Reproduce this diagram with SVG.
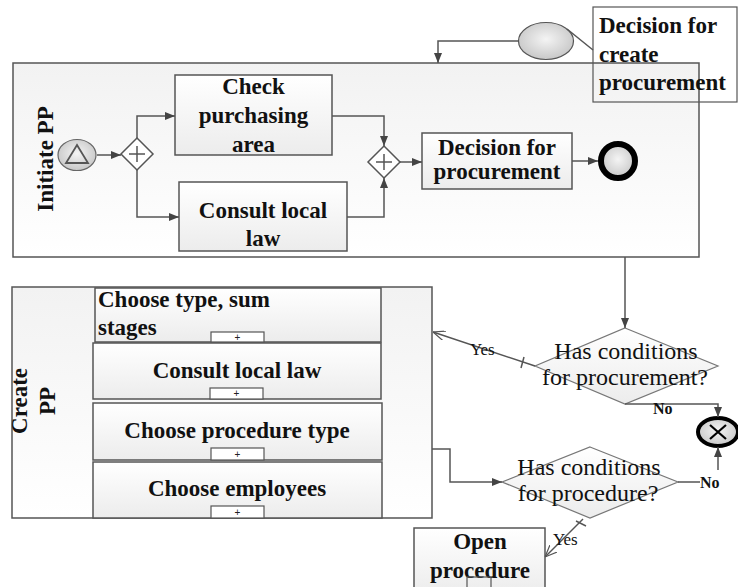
<svg xmlns="http://www.w3.org/2000/svg" width="738" height="587" viewBox="0 0 738 587">
<defs>
<linearGradient id="pool" x1="0" y1="0" x2="0" y2="1"><stop offset="0" stop-color="#f2f2f2"/><stop offset="1" stop-color="#ffffff"/></linearGradient>
<linearGradient id="box" x1="0" y1="0" x2="0" y2="1"><stop offset="0" stop-color="#ffffff"/><stop offset="1" stop-color="#ececec"/></linearGradient>
<radialGradient id="ev" cx="0.5" cy="0.45" r="0.6"><stop offset="0" stop-color="#f4f4f4"/><stop offset="1" stop-color="#c4c4c4"/></radialGradient>
<marker id="arr" viewBox="0 0 10 8" refX="10" refY="4" markerWidth="10" markerHeight="8" markerUnits="userSpaceOnUse" orient="auto"><path d="M0,0 L10,4 L0,8 z" fill="#444"/></marker>
<marker id="open" viewBox="0 0 12 10" refX="12" refY="5" markerWidth="12" markerHeight="10" markerUnits="userSpaceOnUse" orient="auto"><path d="M0,0 L12,5 L0,10" fill="none" stroke="#555" stroke-width="1.2"/></marker>
</defs>
<style>
.pool{fill:url(#pool);stroke:#555;stroke-width:1.5}
.box{fill:url(#box);stroke:#555;stroke-width:1.5}
.dia{fill:url(#box);stroke:#777;stroke-width:1.2}
.gw{fill:#fff;stroke:#555;stroke-width:1.5}
.ln{fill:none;stroke:#555;stroke-width:1.5}
.t{font-family:"Liberation Serif","Times New Roman",serif;font-weight:bold;font-size:23px;fill:#111}
.r{font-family:"Liberation Serif","Times New Roman",serif;font-size:24px;fill:#111}
.s{font-family:"Liberation Serif","Times New Roman",serif;font-size:17px;fill:#111}
.sb{font-family:"Liberation Serif","Times New Roman",serif;font-weight:bold;font-size:16px;fill:#111}
.m{fill:#fff;stroke:#555;stroke-width:1.2}
.mp{font-family:"Liberation Sans",Arial,sans-serif;font-size:10px;fill:#222}
</style>
<rect width="738" height="587" fill="#fff"/>

<g id="pool-initiate">
<rect class="pool" x="13" y="63" width="686" height="194"/>
<text class="t" transform="translate(53,159) rotate(-90)" text-anchor="middle" font-size="23.5">Initiate PP</text>
</g>

<g id="annotation">
<rect x="593" y="7" width="144" height="95" fill="none" stroke="#555" stroke-width="1.2"/>
<text class="t" x="599" y="33" font-size="23.5">Decision for</text>
<text class="t" x="599" y="62" font-size="23.5">create</text>
<text class="t" x="599" y="90" font-size="23.5">procurement</text>
</g>

<g id="message">
<ellipse cx="546" cy="41" rx="27.5" ry="18.5" fill="url(#ev)" stroke="#555" stroke-width="1.2"/>
</g>

<g id="start">
<ellipse cx="77" cy="155" rx="19" ry="15.5" fill="url(#ev)" stroke="#666" stroke-width="1.2"/>
<path d="M77,145 L88,163 L66,163 z" fill="none" stroke="#555" stroke-width="1.8"/>
</g>

<g id="gw-split">
<path class="gw" d="M137,138 L153,154 L137,170 L121,154 z"/>
<path d="M137,146 V162 M129,154 H145" stroke="#555" stroke-width="1.5"/>
</g>

<g id="task-check">
<rect class="box" x="175" y="75" width="157" height="80"/>
<text class="t" x="253.5" y="94" text-anchor="middle">Check</text>
<text class="t" x="253.5" y="123" text-anchor="middle">purchasing</text>
<text class="t" x="253.5" y="152" text-anchor="middle">area</text>
</g>

<g id="task-consult">
<rect class="box" x="179" y="182" width="168" height="69"/>
<text class="t" x="263" y="218" text-anchor="middle">Consult local</text>
<text class="t" x="263" y="246" text-anchor="middle">law</text>
</g>

<g id="gw-join">
<path class="gw" d="M384,146 L400,162 L384,178 L368,162 z"/>
<path d="M384,154 V170 M376,162 H392" stroke="#555" stroke-width="1.5"/>
</g>

<g id="task-decision">
<rect class="box" x="422" y="133" width="150" height="56"/>
<text class="t" x="497" y="155" text-anchor="middle">Decision for</text>
<text class="t" x="497" y="179" text-anchor="middle">procurement</text>
</g>

<g id="end">
<circle cx="618" cy="161" r="17" fill="url(#ev)" stroke="#000" stroke-width="6"/>
</g>

<g id="pool-create">
<rect class="pool" x="12" y="287" width="420" height="231"/>
<text class="t" transform="translate(27,401) rotate(-90)" text-anchor="middle" font-size="23.5">Create</text>
<text class="t" transform="translate(55,401) rotate(-90)" text-anchor="middle" font-size="23.5">PP</text>
</g>

<g id="sub-type">
<rect class="box" x="95" y="288" width="286" height="54"/>
<text class="t" x="98" y="307" font-size="24">Choose type, sum</text>
<text class="t" x="98" y="335" font-size="24">stages</text>
<rect class="m" x="211" y="332" width="53" height="10"/>
<text class="mp" x="237.5" y="341" text-anchor="middle">+</text>
</g>

<g id="sub-law">
<rect class="box" x="93" y="343" width="288" height="56"/>
<text class="t" x="237" y="378" text-anchor="middle" font-size="24">Consult local law</text>
<rect class="m" x="210" y="388" width="53" height="11"/>
<text class="mp" x="236.5" y="397" text-anchor="middle">+</text>
</g>

<g id="sub-proc">
<rect class="box" x="93" y="403" width="289" height="57"/>
<text class="t" x="237" y="438" text-anchor="middle" font-size="24">Choose procedure type</text>
<rect class="m" x="211" y="448" width="53" height="12"/>
<text class="mp" x="237.5" y="458" text-anchor="middle">+</text>
</g>

<g id="sub-emp">
<rect class="box" x="93" y="462" width="289" height="56"/>
<text class="t" x="237" y="496" text-anchor="middle" font-size="24">Choose employees</text>
<rect class="m" x="211" y="506" width="53" height="12"/>
<text class="mp" x="237.5" y="516" text-anchor="middle">+</text>
</g>

<g id="dec-procurement">
<path class="dia" d="M625,328 L718,366 L625,404 L535,366 z"/>
<text class="r" x="626" y="359" text-anchor="middle">Has conditions</text>
<text class="r" x="625" y="385" text-anchor="middle">for procurement?</text>
</g>

<g id="dec-procedure">
<path class="dia" d="M590,447 L678,482 L590,518 L502,482 z"/>
<text class="r" x="589" y="475" text-anchor="middle" font-size="23.5">Has conditions</text>
<text class="r" x="588" y="501" text-anchor="middle" font-size="23.5">for procedure?</text>
</g>

<g id="end-x">
<ellipse cx="718" cy="432" rx="20" ry="14" fill="url(#ev)" stroke="#000" stroke-width="4"/>
<path d="M710,425 L726,439 M726,425 L710,439" stroke="#000" stroke-width="2.2"/>
</g>

<g id="task-open">
<rect class="box" x="414" y="528" width="131" height="66"/>
<text class="t" x="480" y="549" text-anchor="middle" font-size="24">Open</text>
<text class="t" x="480" y="578" text-anchor="middle" font-size="24">procedure</text>
<rect x="467" y="577" width="24" height="14" fill="none" stroke="#555" stroke-width="1.2"/>
</g>

<g id="connectors">
<path class="ln" d="M97,155 H121" marker-end="url(#arr)"/>
<path class="ln" d="M137,138 V116 H175" marker-end="url(#arr)"/>
<path class="ln" d="M137,170 V217 H179" marker-end="url(#arr)"/>
<path class="ln" d="M332,116 H384 V146" marker-end="url(#arr)"/>
<path class="ln" d="M347,217 H384 V178" marker-end="url(#arr)"/>
<path class="ln" d="M400,162 H422" marker-end="url(#arr)"/>
<path class="ln" d="M572,161 H598" marker-end="url(#arr)"/>
<path class="ln" d="M519,41 H438 V63" marker-end="url(#arr)"/>
<path class="ln" d="M567,29 L593,50" stroke-width="1.2"/>
<path class="ln" d="M625,257 V328" marker-end="url(#arr)"/>
<path class="ln" d="M535,366 L433,332" stroke-width="1.3" marker-end="url(#open)"/>
<path class="ln" d="M524,357 L521,368" stroke-width="1.2"/>
<text class="s" x="470" y="355">Yes</text>
<path class="ln" d="M625,404 H718 V417" marker-end="url(#arr)"/>
<text class="sb" x="653" y="414">No</text>
<path class="ln" d="M432,449 H450 V482 H502" marker-end="url(#arr)"/>
<path class="ln" d="M678,482 H700"/>
<text class="sb" x="700" y="488">No</text>
<path class="ln" d="M718,470 V447" marker-end="url(#arr)"/>
<path class="ln" d="M583,519 L545,557" stroke-width="1.3" marker-end="url(#open)"/>
<path class="ln" d="M576,521 L586,526" stroke-width="1.2"/>
<text class="s" x="553" y="545">Yes</text>
</g>
</svg>
